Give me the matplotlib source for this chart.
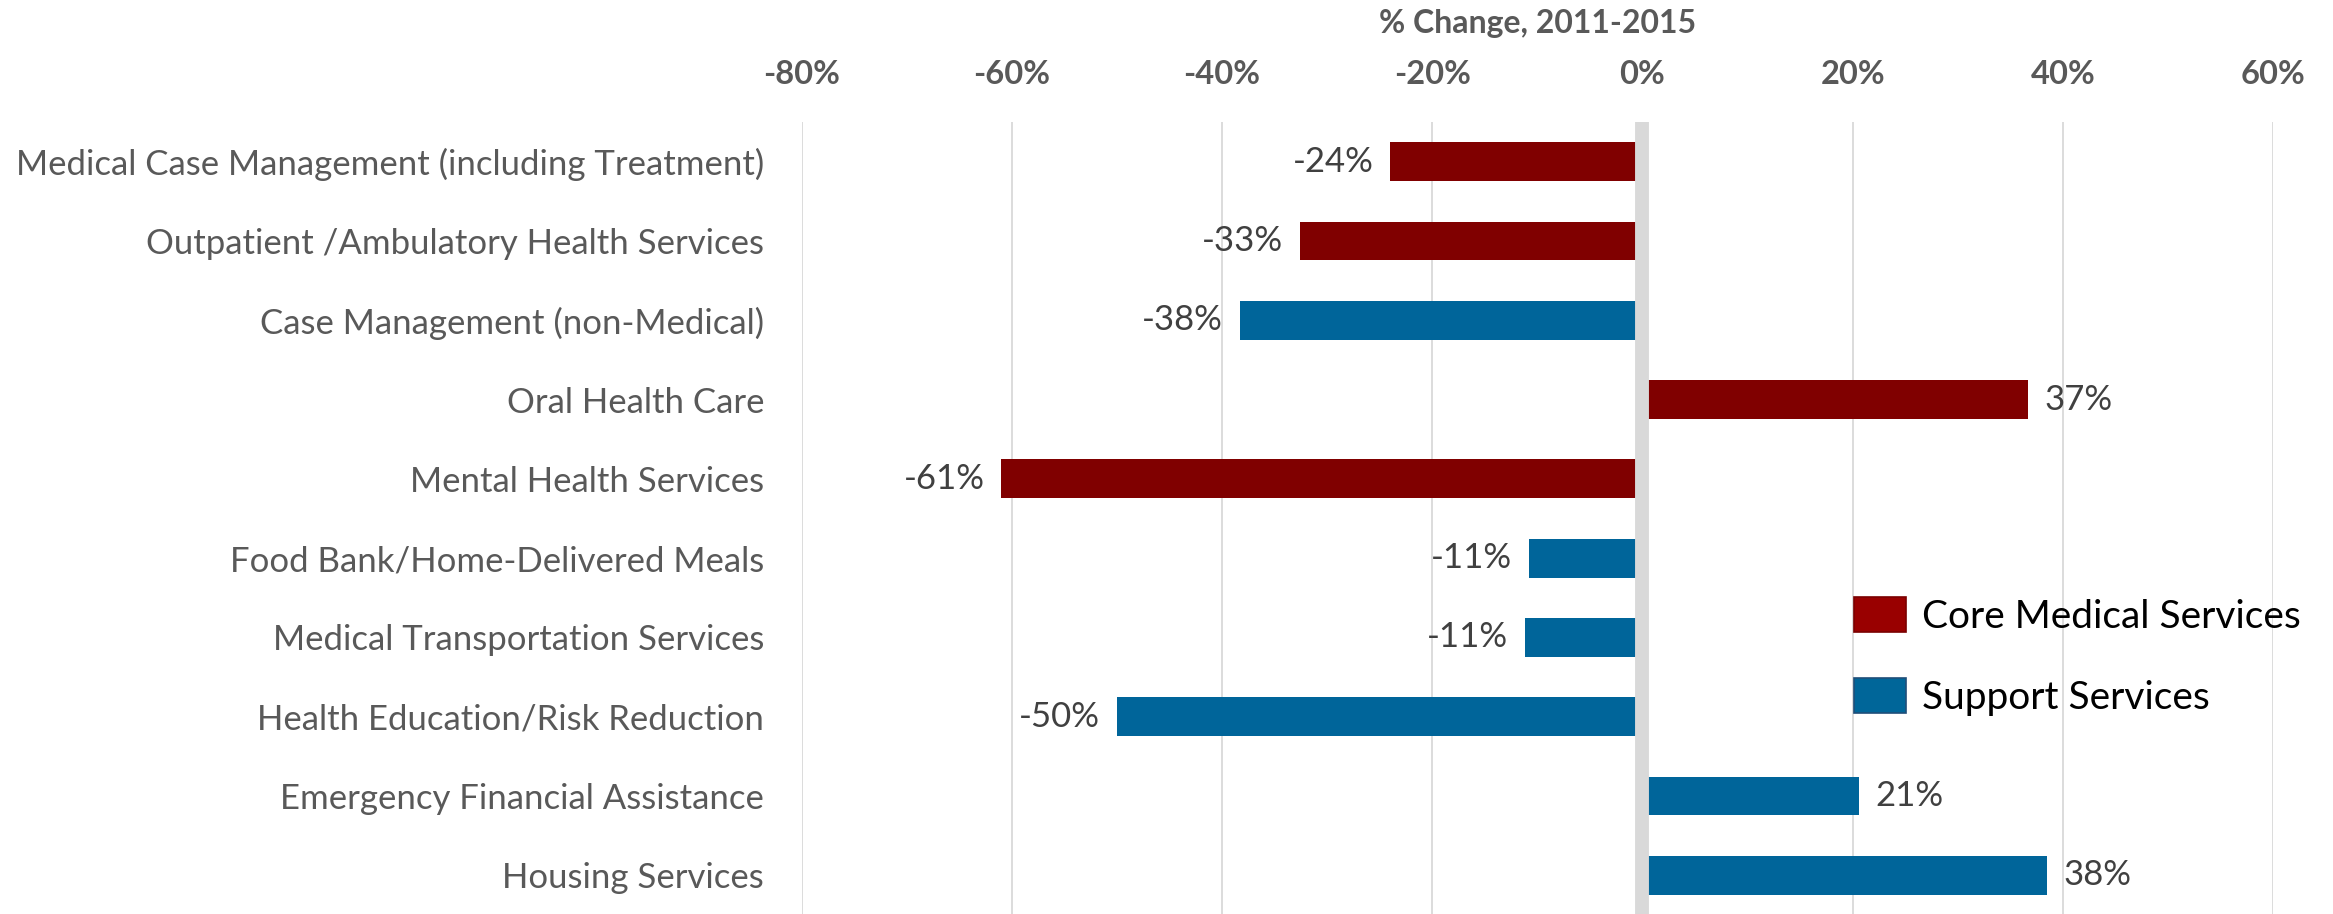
import matplotlib
matplotlib.use("Agg")
import matplotlib.pyplot as plt
from matplotlib.patches import Patch
from matplotlib.ticker import FuncFormatter

plt.rcParams['font.family'] = ['Lato', 'DejaVu Sans']

# service categories, top to bottom
services = [
    "Medical Case Management (including Treatment)",
    "Outpatient /Ambulatory Health Services",
    "Case Management (non-Medical)",
    "Oral Health Care",
    "Mental Health Services",
    "Food Bank/Home-Delivered Meals",
    "Medical Transportation Services",
    "Health Education/Risk Reduction",
    "Emergency Financial Assistance",
    "Housing Services",
]
# % change 2011-2015
pct_change = [-24, -32.6, -38.3, 36.7, -61, -10.8, -11.2, -50, 20.6, 38.5]
# service group for each row
group = ["core", "core", "support", "core", "core",
         "support", "support", "support", "support", "support"]

bar_colors = {"core": "#800000", "support": "#00659a"}
grey_txt = "#595959"

fig = plt.figure(figsize=(23.33, 9.14), dpi=100)
ax = fig.add_axes([0.3436, -0.001, 0.6307, 0.8675])

ypos = list(range(len(services)))
ax.barh(ypos, pct_change, height=0.49,
        color=[bar_colors[g] for g in group], zorder=2)

# thick grey zero line over the bar roots
ax.axvline(0, color="#d9d9d9", lw=10, zorder=3)

for y, v in zip(ypos, pct_change):
    off = 12 if v > 0 else -12
    ax.annotate(f"{v:.0f}%", xy=(v, y), xytext=(off, 0),
                textcoords="offset points", va="center",
                ha="left" if v > 0 else "right",
                fontsize=25, color="#404040")

ax.set_xlim(-80, 60)
ax.set_ylim(len(services) - 0.5, -0.5)
ax.set_xticks(range(-80, 61, 20))
ax.xaxis.set_major_formatter(FuncFormatter(lambda v, p: f"{v:.0f}%"))
ax.xaxis.tick_top()
ax.tick_params(axis="x", length=0, pad=24, labelsize=23.5,
               labelcolor=grey_txt)
for t in ax.get_xticklabels():
    t.set_fontweight("bold")
ax.set_yticks(ypos)
ax.set_yticklabels(services)
ax.tick_params(axis="y", length=0, pad=27, labelsize=25,
               labelcolor=grey_txt)

ax.grid(axis="x", color="#d9d9d9", lw=1.3, zorder=0)
ax.set_axisbelow(True)
for s in ax.spines.values():
    s.set_visible(False)

fig.text(0.6589, 1 - 24 / 914, "% Change, 2011-2015", ha="center",
         va="center", fontsize=23, fontweight="bold", color=grey_txt)

handles = [Patch(facecolor="#990000", edgecolor="#7a0000", lw=1.2),
           Patch(facecolor="#006699", edgecolor="#1f4e79", lw=1.2)]
fig.legend(handles, ["Core Medical Services", "Support Services"],
           loc="upper left", bbox_to_anchor=(0.7947, 0.347),
           frameon=False, fontsize=28, handlelength=1.34,
           handleheight=1.03, handletextpad=0.4, labelspacing=1.1,
           borderpad=0, borderaxespad=0)

fig.savefig("out.png", dpi=100)
